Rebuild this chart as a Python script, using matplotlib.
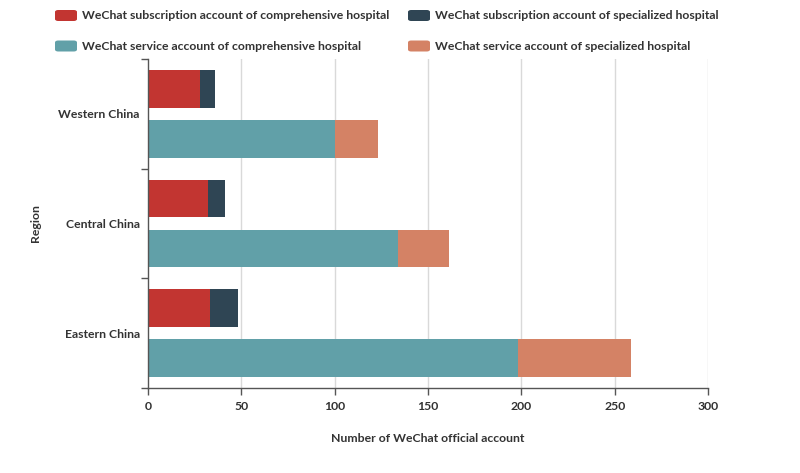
import matplotlib
matplotlib.use("Agg")
import matplotlib.pyplot as plt
from matplotlib.patches import FancyBboxPatch
import numpy as np

plt.rcParams['font.family'] = ['Lato', 'DejaVu Sans']

regions = ["Western China", "Central China", "Eastern China"]
sub_comp = [28, 32, 33]
sub_spec = [8, 9, 15]
svc_comp = [100, 134, 198]
svc_spec = [23, 27, 61]
series_names = [
    "WeChat subscription account of comprehensive hospital",
    "WeChat subscription account of specialized hospital",
    "WeChat service account of comprehensive hospital",
    "WeChat service account of specialized hospital",
]
colors = ["#c23531", "#2f4554", "#61a0a8", "#d48265"]
xticks = [0, 50, 100, 150, 200, 250, 300]

W, H = 800, 473
FS = 8.8
FW = 'bold'
TC = '#333333'
fig = plt.figure(figsize=(W / 100, H / 100), dpi=100)
ax = fig.add_axes([148 / W, 1 - 388 / H, 560 / W, 329 / H])

y = np.arange(len(regions))
h = 0.346
off = 0.228
ax.barh(y - off, sub_comp, height=h, color=colors[0])
ax.barh(y - off, sub_spec, left=sub_comp, height=h, color=colors[1])
ax.barh(y + off, svc_comp, height=h, color=colors[2])
ax.barh(y + off, svc_spec, left=svc_comp, height=h, color=colors[3])

ax.set_xlim(0, 300)
ax.set_ylim(len(regions) - 0.5, -0.5)
ax.set_xticks(xticks)
ax.set_xticklabels([str(t) for t in xticks], fontsize=FS, fontweight=FW, color=TC)
ax.set_yticks(y)
ax.set_yticklabels(regions, fontsize=FS, fontweight=FW, color=TC)
ax.set_yticks(np.arange(-0.5, len(regions)), minor=True)
ax.tick_params(axis='y', which='major', length=0, pad=6)
ax.tick_params(axis='y', which='minor', length=5, color='#555555', width=1)
ax.tick_params(axis='x', length=5, color='#555555', width=1, pad=4)

for t in xticks[1:]:
    ax.axvline(t, color='#d9d9d9', lw=1, zorder=0)

for s in ['top', 'right']:
    ax.spines[s].set_visible(False)
for s in ['left', 'bottom']:
    ax.spines[s].set_color('#555555')
    ax.spines[s].set_linewidth(1)

fig.text(428 / W, 1 - 438 / H, "Number of WeChat official account", ha='center', va='center',
         fontsize=FS, fontweight=FW, color=TC)
fig.text(35 / W, 1 - 223 / H, "Region", ha='center', va='center', rotation=90,
         fontsize=FS, fontweight=FW, color=TC)

# legend
pos = [(55, 15.5), (408, 15.5), (55, 46), (408, 46)]
for (px, py), name, c in zip(pos, series_names, colors):
    box = FancyBboxPatch(((px) / W, 1 - (py + 5.5) / H), 22 / W, 11 / H,
                         boxstyle="round,pad=0,rounding_size=0.004",
                         transform=fig.transFigure, facecolor=c, edgecolor='none')
    fig.add_artist(box)
    fig.text((px + 27) / W, 1 - py / H, name, ha='left', va='center',
             fontsize=FS, fontweight=FW, color=TC)

fig.savefig("out.png", dpi=100)
